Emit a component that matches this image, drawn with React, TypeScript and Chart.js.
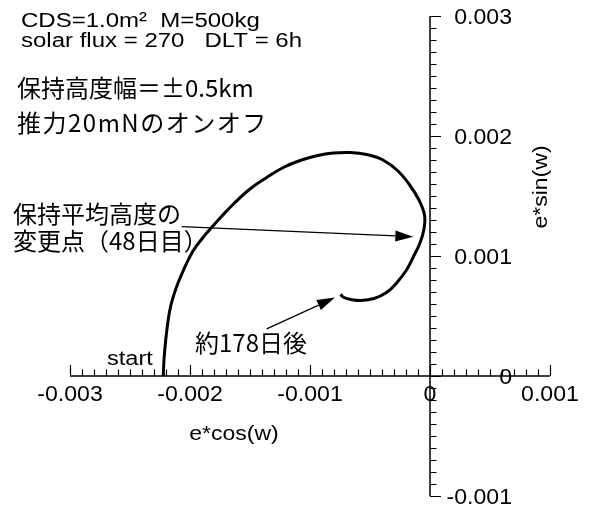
import React, { useEffect, useRef } from "react";
import { Chart, registerables } from "chart.js";

Chart.register(...registerables);

// Trajectory of the eccentricity vector: e*cos(w) and e*sin(w)
const eCosW = [
  -0.0022225, -0.0022167, -0.0021958, -0.0021625, -0.0021125, -0.0020542, -0.001975,
  -0.0018917, -0.0018167, -0.0017375, -0.0016333, -0.0015, -0.0013608, -0.0012225,
  -0.0010833, -0.0009442, -0.0008058, -0.0006667, -0.0005275, -0.0003917, -0.0002667,
  -0.0001667, -0.0000917, -0.0000458, -0.00005, -0.0000833, -0.0001375, -0.0001958,
  -0.000275, -0.0003625, -0.0004667, -0.000575, -0.0006583, -0.0007167, -0.0007458,
];
const eSinW = [
  0, 0.0001333, 0.0003583, 0.000575, 0.0007417, 0.0008833, 0.0010417,
  0.0011542, 0.0012417, 0.0013292, 0.0014375, 0.0015583, 0.0016542, 0.0017375,
  0.0017958, 0.0018358, 0.0018583, 0.0018625, 0.0018458, 0.0018, 0.0017083,
  0.0015875, 0.0014667, 0.0013417, 0.001225, 0.0011083, 0.0009958, 0.0008833,
  0.0007792, 0.0006958, 0.0006458, 0.0006292, 0.0006375, 0.0006542, 0.0006792,
];

// Axis ranges and tick labels
const xRange = [-0.003, 0.001];
const yRange = [-0.001, 0.003];
const minorStep = 0.0001;
const xTickValues = [-0.003, -0.002, -0.001, 0, 0.001];
const xTickLabels = ["-0.003", "-0.002", "-0.001", "0", "0.001"];
const yTickValues = [-0.001, 0, 0.001, 0.002, 0.003];
const yTickLabels = ["-0.001", "0", "0.001", "0.002", "0.003"];

// Annotation arrows in data units: [tailX, tailY, tipX, tipY]
const arrowChange = [-0.002069, 0.001244, -0.000139, 0.001161];
const arrowEnd = [-0.001361, 0.000392, -0.000792, 0.000654];

const LATIN = '"Liberation Sans", Arial, Helvetica, sans-serif';
const CJK = '"Noto Sans CJK JP", "Noto Sans", sans-serif';

function drawText(
  ctx: CanvasRenderingContext2D,
  text: string,
  x: number,
  y: number,
  font: string,
  opts: {
    sx?: number;
    align?: CanvasTextAlign;
    baseline?: CanvasTextBaseline;
    rotate?: number;
    spacing?: number;
  } = {}
) {
  ctx.save();
  ctx.font = font;
  ctx.fillStyle = "#000";
  ctx.textAlign = opts.align ?? "left";
  ctx.textBaseline = opts.baseline ?? "alphabetic";
  if (opts.spacing) (ctx as any).letterSpacing = `${opts.spacing}px`;
  ctx.translate(x, y);
  if (opts.rotate) ctx.rotate(opts.rotate);
  ctx.scale(opts.sx ?? 1, 1);
  ctx.fillText(text, 0, 0);
  ctx.restore();
}

function drawArrow(ctx: CanvasRenderingContext2D, x1: number, y1: number, x2: number, y2: number) {
  const ang = Math.atan2(y2 - y1, x2 - x1);
  const headLen = 18;
  const headHalf = 5.5;
  const bx = x2 - headLen * Math.cos(ang);
  const by = y2 - headLen * Math.sin(ang);
  ctx.save();
  ctx.strokeStyle = "#000";
  ctx.fillStyle = "#000";
  ctx.lineWidth = 1.3;
  ctx.beginPath();
  ctx.moveTo(x1, y1);
  ctx.lineTo(bx, by);
  ctx.stroke();
  ctx.beginPath();
  ctx.moveTo(x2, y2);
  ctx.lineTo(bx + headHalf * Math.sin(ang), by - headHalf * Math.cos(ang));
  ctx.lineTo(bx - headHalf * Math.sin(ang), by + headHalf * Math.cos(ang));
  ctx.closePath();
  ctx.fill();
  ctx.restore();
}

// Axes crossing at the origin, ticks pointing into the positive side
const crossAxes = {
  id: "crossAxes",
  beforeDatasetsDraw(chart: any) {
    const { ctx } = chart;
    const xs = chart.scales.x;
    const ys = chart.scales.y;
    const x0 = xs.getPixelForValue(0);
    const y0 = ys.getPixelForValue(0);
    const majorLen = 11;
    const minorLen = 6.5;
    ctx.save();
    ctx.strokeStyle = "#000";
    ctx.lineWidth = 1.5;
    ctx.beginPath();
    ctx.moveTo(xs.getPixelForValue(xRange[0]), y0);
    ctx.lineTo(xs.getPixelForValue(xRange[1]), y0);
    ctx.moveTo(x0, ys.getPixelForValue(yRange[0]));
    ctx.lineTo(x0, ys.getPixelForValue(yRange[1]));
    ctx.stroke();

    ctx.lineWidth = 1.2;
    ctx.beginPath();
    const xi0 = Math.round(xRange[0] / minorStep);
    const xi1 = Math.round(xRange[1] / minorStep);
    for (let i = xi0; i <= xi1; i++) {
      const px = Math.round(xs.getPixelForValue(i * minorStep)) + 0.5;
      const len = i % 10 === 0 ? majorLen : minorLen;
      ctx.moveTo(px, y0);
      ctx.lineTo(px, y0 - len);
    }
    const yi0 = Math.round(yRange[0] / minorStep);
    const yi1 = Math.round(yRange[1] / minorStep);
    for (let i = yi0; i <= yi1; i++) {
      const py = Math.round(ys.getPixelForValue(i * minorStep)) + 0.5;
      const len = i % 10 === 0 ? majorLen : minorLen;
      ctx.moveTo(x0, py);
      ctx.lineTo(x0 + len, py);
    }
    ctx.stroke();
    ctx.restore();

    const tickFont = `22px ${LATIN}`;
    xTickValues.forEach((v, i) => {
      drawText(ctx, xTickLabels[i], xs.getPixelForValue(v), y0 + 25, tickFont, { align: "center", sx: 1.05 });
    });
    yTickValues.forEach((v, i) => {
      drawText(ctx, yTickLabels[i], x0 + 82, ys.getPixelForValue(v) + 1.5, tickFont, {
        align: "right",
        baseline: "middle",
        sx: 1.05,
      });
    });

    // axis titles
    drawText(ctx, "e*cos(w)", 234, 434, `20px ${LATIN}`, { align: "center", baseline: "middle", sx: 1.15 });
    drawText(ctx, "e*sin(w)", 541, 187, `20px ${LATIN}`, {
      align: "center",
      baseline: "middle",
      sx: 1.15,
      rotate: -Math.PI / 2,
    });
  },
  afterDatasetsDraw(chart: any) {
    const { ctx } = chart;
    const xs = chart.scales.x;
    const ys = chart.scales.y;
    const latin = `20px ${LATIN}`;
    const cjk = `24px ${CJK}`;

    drawText(ctx, "CDS=1.0m²  M=500kg", 21, 27, latin, { sx: 1.2 });
    drawText(ctx, "solar flux = 270   DLT = 6h", 21, 47, latin, { sx: 1.2 });
    drawText(ctx, "保持高度幅＝±0.5km", 17, 88, cjk, { baseline: "middle" });
    drawText(ctx, "推力20mNのオンオフ", 17, 123, cjk, { baseline: "middle", spacing: 1.5 });

    drawText(ctx, "保持平均高度の", 13, 214, cjk, { baseline: "middle" });
    drawText(ctx, "変更点（48日目）", 13, 241, cjk, { baseline: "middle" });
    drawText(ctx, "約178日後", 195, 343, cjk, { baseline: "middle" });
    drawText(ctx, "start", 107, 365, latin, { sx: 1.18 });

    for (const a of [arrowChange, arrowEnd]) {
      drawArrow(
        ctx,
        xs.getPixelForValue(a[0]),
        ys.getPixelForValue(a[1]),
        xs.getPixelForValue(a[2]),
        ys.getPixelForValue(a[3])
      );
    }
  },
};

export default function App() {
  const canvasRef = useRef<HTMLCanvasElement | null>(null);

  useEffect(() => {
    if (!canvasRef.current) return;
    const points = eCosW.map((x, i) => ({ x, y: eSinW[i] }));
    const chart = new Chart(canvasRef.current, {
      type: "line",
      data: {
        datasets: [
          {
            data: points,
            borderColor: "#000",
            borderWidth: 3,
            pointRadius: 0,
            tension: 0.4,
            fill: false,
          },
        ],
      },
      options: {
        responsive: false,
        animation: false,
        devicePixelRatio: 1,
        layout: { padding: { left: 70, right: 40, top: 16, bottom: 12 } },
        plugins: { legend: { display: false }, tooltip: { enabled: false } },
        scales: {
          x: { type: "linear", min: xRange[0], max: xRange[1], display: false },
          y: { type: "linear", min: yRange[0], max: yRange[1], display: false },
        },
      },
      plugins: [crossAxes],
    });
    return () => chart.destroy();
  }, []);

  return (
    <div style={{ position: "absolute", left: 0, top: 0, width: 590, height: 508, background: "#fff" }}>
      <canvas ref={canvasRef} width={590} height={508} />
    </div>
  );
}
